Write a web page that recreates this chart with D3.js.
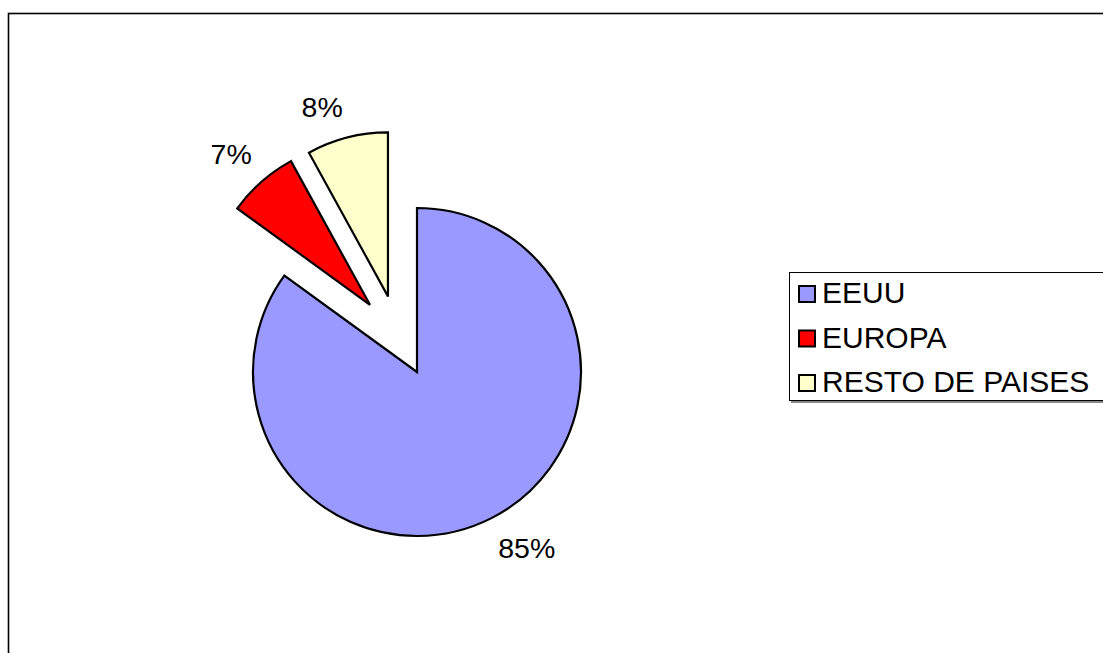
<!DOCTYPE html>
<html>
<head>
<meta charset="utf-8">
<script src="https://cdn.jsdelivr.net/npm/d3@7"></script>
<style>
  html, body { margin: 0; padding: 0; background: #fff; }
  svg { display: block; }
  text { font-family: "Liberation Sans", Arial, sans-serif; fill: #000; }
</style>
</head>
<body>
<div id="chart"></div>
<script>
// Share of total by region
const categories = ["EEUU", "EUROPA", "RESTO DE PAISES"];
const shares = [85, 7, 8];
const sliceColors = ["#9999FF", "#FF0000", "#FFFFCC"];

// Pulled-out slices: distance and direction (degrees, clockwise from 12 o'clock)
const explodeDistance = [0, 82, 81];
const explodeDirection = [0, -35, -21];
// Label placement: distance from slice apex and angle nudge from the slice bisector
const labelDistance = [207, 205, 201];
const labelAngleNudge = [-5, -1.2, -4.7];

const W = 1103, H = 653;
const cx = 417, cy = 372, R = 164;
const fontSize = 30;

const svg = d3.select("#chart").append("svg")
  .attr("width", W).attr("height", H);

svg.append("rect").attr("width", W).attr("height", H).attr("fill", "#fff");

// Chart area frame (continues past the right and bottom edges)
svg.append("rect")
  .attr("x", 8.5).attr("y", 13.5)
  .attr("width", 1200).attr("height", 700)
  .attr("fill", "none").attr("stroke", "#000").attr("stroke-width", 1.6);

const pie = d3.pie().sort(null).value(d => d.value)
  .startAngle(0).endAngle(2 * Math.PI);
const data = categories.map((c, i) => ({ name: c, value: shares[i], i }));
const arcs = pie(data);

const arc = d3.arc().innerRadius(0).outerRadius(R);
const rad = a => a * Math.PI / 180;

const g = svg.append("g").attr("transform", `translate(${cx},${cy})`);

const slices = g.selectAll("g.slice").data(arcs).enter().append("g")
  .attr("class", "slice")
  .attr("transform", d => {
    const [dx, dy] = d3.pointRadial(rad(explodeDirection[d.data.i]), explodeDistance[d.data.i]);
    return `translate(${dx},${dy})`;
  });

slices.append("path")
  .attr("d", arc)
  .attr("fill", d => sliceColors[d.data.i])
  .attr("stroke", "#000")
  .attr("stroke-width", 2.2)
  .attr("stroke-linejoin", "miter");

slices.append("text")
  .attr("transform", d => {
    const mid = (d.startAngle + d.endAngle) / 2 + rad(labelAngleNudge[d.data.i]);
    const [x, y] = d3.pointRadial(mid, labelDistance[d.data.i]);
    return `translate(${x},${y})`;
  })
  .attr("text-anchor", "middle")
  .attr("dy", "0.36em")
  .attr("font-size", 28.5)
  .text(d => d3.format(".0f")(d.data.value) + "%");

// Legend
const legX = 789.5, legY = 272.5, rowGap = 44.5, firstBase = 303;
const legend = svg.append("g");
legend.append("rect")
  .attr("x", legX + 1.5).attr("y", legY + 1.5)
  .attr("width", 400).attr("height", 129)
  .attr("fill", "#888");
legend.append("rect")
  .attr("x", legX).attr("y", legY)
  .attr("width", 400).attr("height", 128)
  .attr("fill", "#fff").attr("stroke", "#000").attr("stroke-width", 1);

const rows = legend.selectAll("g.row").data(categories).enter().append("g")
  .attr("class", "row")
  .attr("transform", (d, i) => `translate(0,${firstBase + i * rowGap})`);

rows.append("rect")
  .attr("x", 799).attr("y", -17)
  .attr("width", 16).attr("height", 16)
  .attr("fill", (d, i) => sliceColors[i])
  .attr("stroke", "#000").attr("stroke-width", 2);

rows.append("text")
  .attr("x", 822).attr("y", 0)
  .attr("font-size", fontSize)
  .text(d => d);
</script>
</body>
</html>
